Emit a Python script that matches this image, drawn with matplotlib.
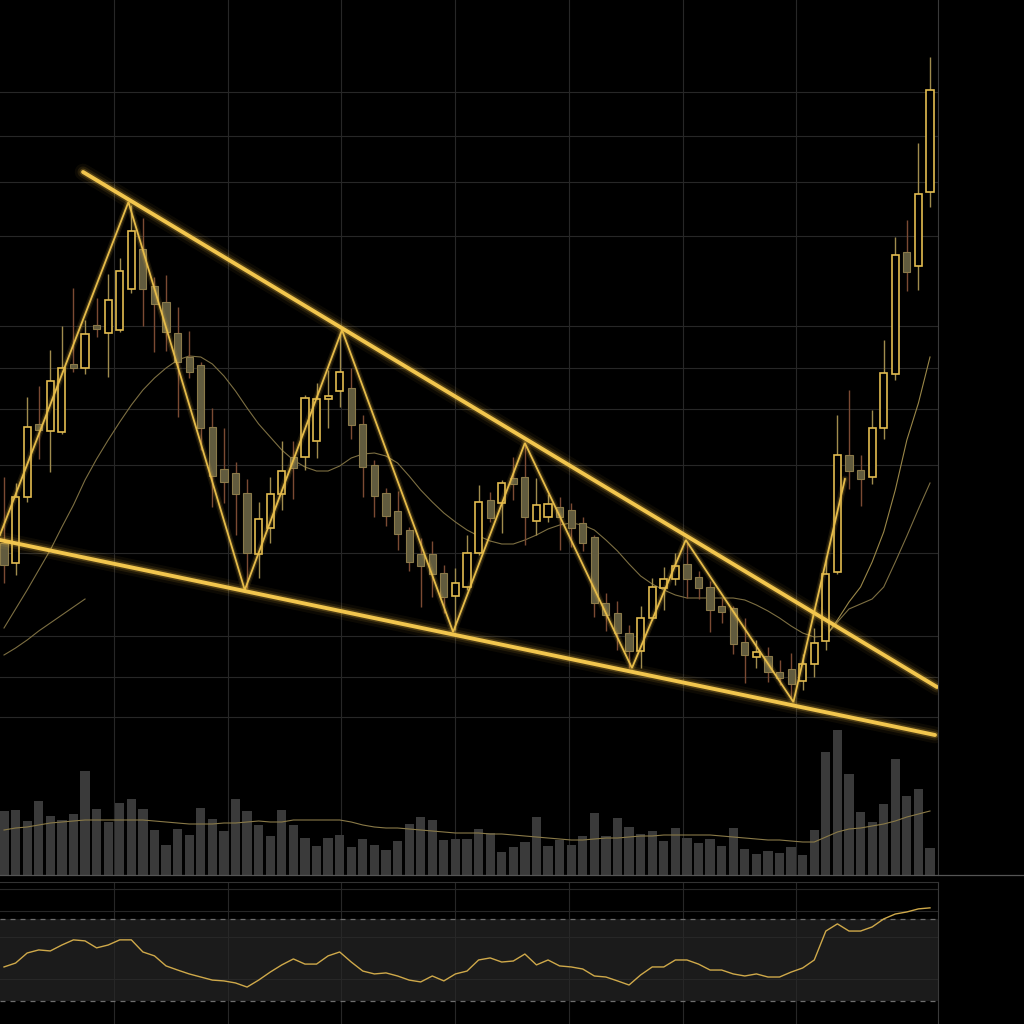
import numpy as np
import matplotlib
matplotlib.use("Agg")
import matplotlib.pyplot as plt
from matplotlib.patches import Rectangle
from matplotlib.lines import Line2D

# ---------------- data ----------------
opens = [332,312,378,451,444,443,511,507,550,542, 545,586,626,589,573,542,518,510,448,406,
         402,382,321,347,381,418,418,434,476,484, 487,451,410,382,364,345,321,321,302,279,
         288,322,375,372,397,398,354,358,368,365, 352,338,272,262,242,224,257,287,296,311,
         298,288,269,267,233,218,219,203,206,194, 211,234,303,420,405,398,447,501,623,609, 683]
highs = [398,392,478,489,525,549,587,555,577,601, 617,670,657,598,600,568,544,513,467,447,
         413,396,373,398,434,434,480,492,505,542, 507,460,415,387,384,348,337,334,310,307,
         340,390,383,395,418,430,397,381,378,372, 358,340,282,274,250,269,297,308,322,332,
         304,294,277,269,257,235,228,215,222,221, 247,319,460,485,420,465,535,638,655,732, 818]
lows = [292,300,373,416,403,441,503,501,538,498, 543,582,549,523,524,458,497,425,368,372,
        340,287,297,332,365,376,405,417,447,468, 436,378,358,349,325,304,268,278,262,245,
        285,320,353,342,375,330,340,353,325,328, 324,258,244,225,207,207,255,265,290,277,
        276,243,252,221,192,207,193,190,175,185, 198,225,301,386,369,391,436,495,584,585, 668]
closes = [310,378,448,445,494,507,507,541,546,575, 604,644,586,571,543,513,503,447,399,393,
          381,322,356,381,404,407,477,476,479,503, 450,408,379,359,341,313,309,301,278,292,
          322,373,357,392,391,358,370,371,358,347, 332,272,260,242,224,257,288,296,309,296,
          287,265,263,231,220,223,203,197,191,211, 232,301,420,404,396,447,502,620,603,681, 785]
volume = [64,65,54,74,59,55,61,104,66,53, 72,76,66,45,30,46,40,67,56,44,
          76,64,50,39,65,50,37,29,37,40, 28,36,30,25,34,51,58,55,35,36,
          36,46,42,23,28,33,58,29,35,30, 39,62,39,57,48,41,44,34,47,37,
          32,36,29,47,26,21,24,22,28,20, 45,123,145,101,63,53,71,116,79,86, 27]
vol_ma = [45,47,48,50,52,53,54,55,55,55, 55,55,55,54,53,52,51,51,51,52,
          52,53,54,53,53,55,55,55,55,55, 53,50,48,47,47,46,45,44,43,42,
          42,42,41,41,40,39,38,37,36,35, 35,36,37,37,38,39,39,40,40,40,
          40,40,39,38,37,36,35,35,34,33, 33,38,43,46,47,49,51,54,58,61, 64]
ma_mid = [247,266,285,305,325,348,370,395,416,435, 453,470,485,497,507,515,519,518,511,499,
          484,467,451,438,425,415,408,404,404,409, 417,421,422,419,412,399,385,373,362,353,
          345,339,334,331,331,335,340,346,350,352, 350,345,335,324,311,299,291,285,280,277,
          277,277,277,277,275,270,264,257,249,242, 238,239,253,266,271,276,288,313,339,366, 392]
ma_fast_idx = [71,72,73,74,75,76,77,78,79,80]
ma_fast = [239,255,273,288,313,343,385,435,472,518]
ma_slow_idx = [0,1,2,3,4,5,6,7]
ma_slow = [220,227,235,244,252,260,268,276]
rsi = [46.6,48.5,53.4,54.9,54.4,57.3,59.8,59.3,55.9,57.3, 59.8,59.8,53.9,52.0,47.1,45.1,43.2,41.7,40.2,39.8,
       38.8,36.8,40.2,44.1,47.6,50.5,48.0,48.0,52.0,53.9, 49.0,44.6,43.2,43.7,42.2,40.2,39.3,42.2,39.8,43.2,
       44.6,50.0,51.0,49.0,49.5,52.9,47.6,50.0,47.1,46.6, 45.6,42.2,41.7,39.8,37.8,42.7,46.6,46.6,50.0,50.0,
       48.0,45.1,45.1,43.2,42.2,43.2,41.7,41.7,44.1,46.1, 50.0,64.1,67.6,64.1,64.1,66.1,70.0,72.4,73.4,74.9, 75.4]
zig_idx = [-0.35, 10.75, 20.8, 29.2, 38.8, 45.0, 54.25, 58.9, 68.2, 72.65]
zig_px = [340, 673, 285, 545, 243, 432, 207, 335, 173, 396]
upper_idx = [6.83, 80.6]
upper_px = [703, 188]
lower_idx = [-0.35, 80.43]
lower_px = [335, 140]

# grid positions (style)
grid_x = [9.50, 19.35, 29.11, 38.96, 48.81, 58.66, 68.42]
grid_y = [783, 739, 693, 639, 549, 507, 466, 410, 322, 239, 198, 158]
rsi_grid = [40.7, 61.2, 73.9, 84.6]

# ---------------- figure ----------------
W = H = 1024
fig = plt.figure(figsize=(10.24, 10.24), dpi=100, facecolor="black")

def fr(x0, y0, x1, y1):
    return [x0 / W, 1 - y1 / H, (x1 - x0) / W, (y1 - y0) / H]

ax = fig.add_axes(fr(0, 0, 938, 875))
axv = fig.add_axes(fr(0, 720, 938, 875))
axr = fig.add_axes(fr(0, 882, 938, 1024))

XL = (-0.346, 80.69)
GRID = "#272727"
for a in (ax, axr):
    a.set_facecolor("black")
    a.set_xlim(*XL)
    a.set_xticks(grid_x)
    a.tick_params(length=0, labelbottom=False, labelleft=False)
    a.grid(True, color=GRID, lw=0.8)
    a.set_axisbelow(True)
    for s in ("left", "top", "bottom"):
        a.spines[s].set_visible(False)
    a.spines["right"].set_color("#3a3a3a")
    a.spines["right"].set_linewidth(0.8)

ax.set_ylim(0, 875)
ax.set_yticks(grid_y)

x = np.arange(len(opens))
opens_a = np.array(opens); closes_a = np.array(closes)
highs_a = np.array(highs); lows_a = np.array(lows)

# moving averages
MA_COL = "#7d6f42"
ax.plot(x, ma_mid, color=MA_COL, lw=0.8, zorder=2)
ax.plot(ma_fast_idx, ma_fast, color="#9a8748", lw=0.8, zorder=2)
ax.plot(ma_slow_idx, ma_slow, color=MA_COL, lw=0.8, zorder=2)

# candles
bw = 0.62
BULL = "#E2BC50"
for i in x:
    o, c, h, l = opens_a[i], closes_a[i], highs_a[i], lows_a[i]
    bull = c >= o
    wcol = "#a08c4e" if bull else "#7b4a33"
    ax.plot([i, i], [l, h], color=wcol, lw=1.0, zorder=3, solid_capstyle="butt")
    lo, hi = min(o, c), max(o, c)
    if bull:
        r = Rectangle((i - bw / 2, lo), bw, max(hi - lo, 2), facecolor="black",
                      edgecolor=BULL, lw=1.2, zorder=4)
    else:
        r = Rectangle((i - bw / 2, lo), bw, max(hi - lo, 2), facecolor="#615b3e",
                      edgecolor="#8a7a4a", lw=0.8, zorder=4)
    ax.add_patch(r)

# zigzag
for lw_, al in ((5, 0.10), (3, 0.18)):
    ax.plot(zig_idx, zig_px, color="#F0C04A", lw=lw_, alpha=al, zorder=5,
            solid_capstyle="round")
ax.plot(zig_idx, zig_px, color="#E6BC4A", lw=1.3, zorder=6, solid_joinstyle="miter")

# trendlines with glow
for xs, ys in ((upper_idx, upper_px), (lower_idx, lower_px)):
    for lw_, al in ((12, 0.05), (8, 0.10), (5, 0.22)):
        ax.plot(xs, ys, color="#F5C242", lw=lw_, alpha=al, zorder=7,
                solid_capstyle="round")
    ax.plot(xs, ys, color="#F2C64E", lw=2.8, zorder=8, solid_capstyle="round")

# volume
axv.set_xlim(*XL)
axv.set_ylim(0, 155)
axv.patch.set_alpha(0)
axv.axis("off")
axv.bar(x, volume, width=0.80, color="#3a3a3a", zorder=2)
axv.plot(x, vol_ma, color="#8a7a48", lw=0.8, zorder=3)

# RSI
axr.set_ylim(18.8, 88.0)
axr.set_yticks(rsi_grid)
axr.spines["top"].set_visible(True)
axr.spines["top"].set_color("#333333")
axr.spines["top"].set_linewidth(0.8)
axr.axhspan(30, 70, color="#1b1b1b", zorder=0.5, lw=0)
axr.axhline(70, color="#6e6e6e", lw=0.9, ls=(0, (4, 4)), zorder=1)
axr.axhline(30, color="#6e6e6e", lw=0.9, ls=(0, (4, 4)), zorder=1)
axr.plot(x, rsi, color="#CFA94A", lw=1.0, zorder=3)

# separator line across full width
fig.add_artist(Line2D([0, 1], [1 - 875 / H, 1 - 875 / H], transform=fig.transFigure,
                      color="#555555", lw=0.9))

fig.savefig("out.png", dpi=100, facecolor="black")
